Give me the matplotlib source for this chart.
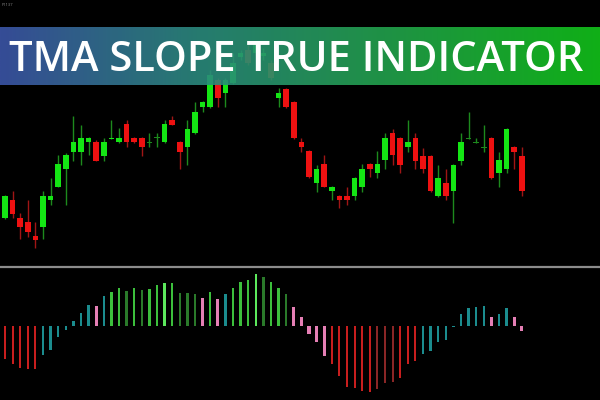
import numpy as np
import matplotlib
matplotlib.use("Agg")
import matplotlib.pyplot as plt
from matplotlib.colors import LinearSegmentedColormap

plt.rcParams['font.family'] = ['Open Sans', 'DejaVu Sans']

# candle prices (arbitrary points)
opens = [49, 67, 49, 45, 31, 40, 67, 80, 98, 115, 115, 125, 125, 111, 128.5, 125, 143, 129, 129, 124.5,
         129, 125, 147, 125, 120, 134, 160, 160, 187, 174, 184, 210, 217, 214, 211, 204, 169, 178, 165, 125,
         116, 84, 103, 76, 71, 71, 71, 80, 103, 94, 107, 134, 129, 120, 129, 111, 111, 71, 84, 76,
         106, 128.5, 124.5, 119.5, 129, 94, 98, 120, 111]
closes = [71, 53, 40, 35, 27, 71, 71, 103, 112, 125, 129, 129, 106, 125, 129.5, 129, 125, 125, 120, 125,
          129.5, 143, 142, 115, 138, 155, 165, 192, 169, 187, 204, 214, 204, 222, 214, 189, 174, 160, 129, 120,
          90, 98, 80, 80, 67, 67, 89, 98, 98, 103, 129, 112, 102, 125, 106, 98, 76, 89, 71, 102,
          125, 129, 125, 120, 89, 107, 138, 115, 76]
highs = [72, 76, 54, 67, 45, 76, 89, 112, 114, 151, 142, 130, 127, 129, 147, 139, 147, 130, 130, 134,
         134, 147, 151, 126, 147, 165, 166, 197, 189, 189, 214, 217, 222, 226, 219, 207, 179, 179, 166, 129,
         117, 102, 112, 81, 72, 80, 90, 103, 104, 116, 134, 138, 130, 147, 134, 119, 112, 102, 98, 103,
         134, 155, 129, 142, 130, 115, 139, 121, 120]
lows = [48, 49, 28, 30, 19, 28, 62, 80, 62, 106, 102, 112, 106, 106, 128, 124, 120, 124, 111, 120,
        120, 124, 142, 98, 102, 133, 155, 159, 160, 160, 183, 207, 202, 212, 207, 187, 160, 159, 128, 115,
        89, 75, 80, 67, 59, 62, 67, 75, 90, 89, 98, 102, 94, 115, 98, 94, 75, 70, 67, 44,
        102, 128, 124, 115, 88, 80, 94, 98, 71]

# TMA slope histogram values and colour classes
slope = [-33, -38, -42, -43, -43, -29, -24, -11, -4, 5, 13, 21, 20, 30, 34, 38, 35, 38, 36, 37,
         41, 43, 43, 33, 33, 32, 28, 34, 27, 32, 38, 44, 46, 52, 49, 44, 38, 32, 19, 9,
         -8, -16, -30, -38, -50, -61, -62, -65, -66, -63, -57, -56, -52, -38, -35, -28, -25, -16, -14, -1,
         12, 18, 19, 20, 9, 12, 18, 9, -5]
slope_cls = ['r'] * 5 + ['t'] * 7 + ['p', 't',
             'g', 'g', 'dg', 'g', 'dg', 'g', 'g', 'lg', 'g', 'dg', 'dg', 'dg',
             'p', 'g', 'p', 't', 'g', 'g', 'g', 'lg', 'dg', 'g', 'g', 'dg'] + ['p'] * 5 + \
            ['r'] * 6 + ['dr'] * 3 + ['r'] * 3 + ['t'] * 9 + ['p', 't', 't', 'p', 'p']

hist_colors = {'r': '#c81e1e', 'dr': '#8a2626', 't': '#1b8c8e', 'p': '#e57fb5',
               'g': '#3cbf3c', 'lg': '#5ce85c', 'dg': '#2a7a2a'}
hist_width = {'r': 0.28, 'dr': 0.28, 't': 0.34, 'p': 0.42, 'g': 0.3, 'lg': 0.3, 'dg': 0.3}

n = len(opens)
x = np.arange(n)
opens = np.array(opens); closes = np.array(closes)
highs = np.array(highs); lows = np.array(lows)

fig = plt.figure(figsize=(6, 4), dpi=100, facecolor='black')

# x mapping: candle 0 at 5px, spacing 7.6px
xlim = (-5 / 7.6, 595 / 7.6)

ax = fig.add_axes([0, 133 / 400, 1, 267 / 400])
ax.set_facecolor('black')
ax.set_xlim(xlim)
ax.set_ylim(0, 267)
ax.axis('off')

up = closes >= opens
wick_col = np.where(up, '#1d8a1d', '#a01515')
ax.vlines(x, lows, highs, colors=wick_col, linewidth=1.0, zorder=1)
body_bot = np.minimum(opens, closes)
body_h = np.maximum(np.abs(closes - opens), 1.0)
body_col = np.where(up, '#14e614', '#ee1111')
body_col = np.where(np.abs(closes - opens) < 1, '#1d8a1d', body_col)
ax.bar(x, body_h, bottom=body_bot, width=0.72, color=body_col, zorder=2)

# histogram panel
ax2 = fig.add_axes([0, 0, 1, 133 / 400])
ax2.set_facecolor('black')
ax2.set_xlim(xlim)
ax2.set_ylim(-74, 59)
ax2.set_xticks([]); ax2.set_yticks([])
for s in ['left', 'right', 'bottom']:
    ax2.spines[s].set_visible(False)
ax2.spines['top'].set_color('#8c8c8c')
ax2.spines['top'].set_linewidth(1.6)
ax2.bar(x, slope, width=[hist_width[c] for c in slope_cls],
        color=[hist_colors[c] for c in slope_cls])

# banner
bax = fig.add_axes([0, 1 - 85 / 400, 1, 58 / 400])
bax.axis('off')
cmap = LinearSegmentedColormap.from_list('banner', ['#3c55a8', '#2b8a7d', '#22a54a', '#12c41a'])
grad = np.linspace(0, 1, 256).reshape(1, -1)
bax.imshow(grad, aspect='auto', cmap=cmap, extent=(0, 1, 0, 1), alpha=0.9)
bax.set_xlim(0, 1); bax.set_ylim(0, 1)
bax.text(0.493, 0.24, 'TMA SLOPE TRUE INDICATOR', color='white', fontsize=30,
         fontweight='semibold', ha='center', va='baseline', transform=bax.transAxes)

fig.text(0.002, 0.992, 'F1137', color='#888888', fontsize=3, va='top')

fig.savefig('out.png', dpi=100, facecolor='black')
